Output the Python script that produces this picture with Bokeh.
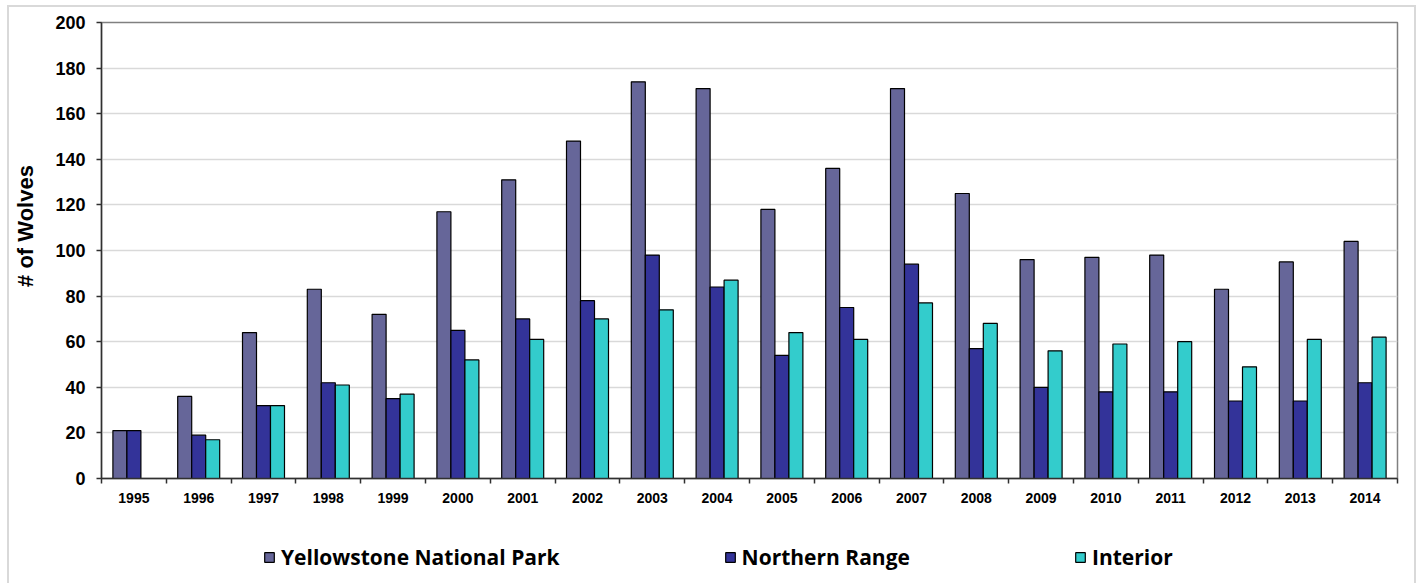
from bokeh.plotting import figure
from bokeh.layouts import column
from bokeh.models import FixedTicker, Legend, LegendItem, ColumnDataSource, Range1d
from bokeh.transform import dodge
from bokeh.embed import file_html
from bokeh.resources import INLINE

years = list(range(1995, 2015))
ynp = [21, 36, 64, 83, 72, 117, 131, 148, 174, 171, 118, 136, 171, 125, 96, 97, 98, 83, 95, 104]
northern = [21, 19, 32, 42, 35, 65, 70, 78, 98, 84, 54, 75, 94, 57, 40, 38, 38, 34, 34, 42]
interior = [0, 17, 32, 41, 37, 52, 61, 70, 74, 87, 64, 61, 77, 68, 56, 59, 60, 49, 61, 62]
series_cols = ["ynp", "northern", "interior"]
series_names = ["Yellowstone National Park", "Northern Range", "Interior"]
colors = ["#666699", "#333399", "#33CCCC"]
y_ticks = list(range(0, 201, 20))

src = ColumnDataSource(dict(year=years, ynp=ynp, northern=northern, interior=interior))

W = 1405
p = figure(width=W, height=506, output_backend="svg", toolbar_location=None,
           x_range=Range1d(years[0] - 0.5, years[-1] + 0.5), y_range=Range1d(0, 200),
           min_border_left=92, min_border_right=17, min_border_top=15, min_border_bottom=35)
p.background_fill_color = "white"
p.border_fill_color = "white"
p.outline_line_color = "#808080"
p.outline_line_width = 1.5

bw = 0.216
for col, off, color in zip(series_cols, [-bw, 0, bw], colors):
    p.vbar(x=dodge("year", off, range=p.x_range), top=col, width=bw, source=src,
           fill_color=color, line_color="black", line_width=1.2)

# axes
p.xaxis.ticker = FixedTicker(ticks=years, minor_ticks=[y - 0.5 for y in years] + [years[-1] + 0.5])
p.xaxis.major_tick_out = 0
p.xaxis.major_tick_in = 0
p.xaxis.minor_tick_out = 5
p.xaxis.minor_tick_in = 0
p.xaxis.minor_tick_line_color = "#303030"
p.xaxis.minor_tick_line_width = 1.5
p.xaxis.major_label_standoff = 9
p.xaxis.major_label_text_font = "Liberation Sans"
p.xaxis.major_label_text_font_style = "bold"
p.xaxis.major_label_text_font_size = "14px"
p.xaxis.major_label_text_color = "black"
p.xaxis.axis_line_color = "#303030"
p.xaxis.axis_line_width = 1.5

p.yaxis.ticker = FixedTicker(ticks=y_ticks, minor_ticks=[])
p.yaxis.major_tick_out = 5
p.yaxis.major_tick_in = 0
p.yaxis.minor_tick_out = 0
p.yaxis.minor_tick_in = 0
p.yaxis.major_tick_line_color = "#303030"
p.yaxis.major_tick_line_width = 1.5
p.yaxis.major_label_standoff = 11
p.yaxis.major_label_text_font = "Liberation Sans"
p.yaxis.major_label_text_font_style = "bold"
p.yaxis.major_label_text_font_size = "18px"
p.yaxis.major_label_text_color = "black"
p.yaxis.axis_line_color = "#303030"
p.yaxis.axis_line_width = 1.5
p.yaxis.axis_label = "\u00a0" * 8 + "# of Wolves"
p.yaxis.axis_label_text_font = "Liberation Sans"
p.yaxis.axis_label_text_font_style = "bold"
p.yaxis.axis_label_text_font_size = "22px"
p.yaxis.axis_label_text_color = "black"
p.yaxis.axis_label_standoff = 14

p.xgrid.grid_line_color = None
p.ygrid.ticker = FixedTicker(ticks=y_ticks)
p.ygrid.grid_line_color = "#d9d9d9"
p.ygrid.grid_line_width = 1.5

# legend strip below the chart (its bars lie below its own y range, so only the legend shows)
p2 = figure(width=W, height=70, output_backend="svg", toolbar_location=None,
            x_range=p.x_range, y_range=Range1d(201, 202),
            x_axis_location=None, y_axis_location=None,
            min_border_left=0, min_border_right=0, min_border_top=0, min_border_bottom=0)
p2.grid.visible = False
p2.outline_line_color = None
p2.background_fill_color = "white"
p2.border_fill_color = "white"
legend_renderers = [p2.vbar(x="year", top=col, width=bw, source=src,
                            fill_color=c, line_color="black", line_width=1.2)
                    for col, c in zip(series_cols, colors)]
legend = Legend(items=[LegendItem(label=n, renderers=[r]) for n, r in zip(series_names, legend_renderers)],
                orientation="horizontal", location=(162, 12), spacing=164,
                padding=0, margin=0, glyph_width=12, glyph_height=12, label_standoff=6,
                label_text_font="Open Sans", label_text_font_style="bold",
                label_text_font_size="21px", label_text_color="black",
                border_line_alpha=0, background_fill_alpha=0)
p2.add_layout(legend, "center")

layout = column(p, p2, spacing=0,
                styles={"margin": "5px 0 0 7px", "border-top": "2px solid #d9d9d9",
                        "border-left": "2px solid #d9d9d9", "border-right": "2px solid #d9d9d9"})

open("out.html", "w").write(file_html(layout, INLINE))
